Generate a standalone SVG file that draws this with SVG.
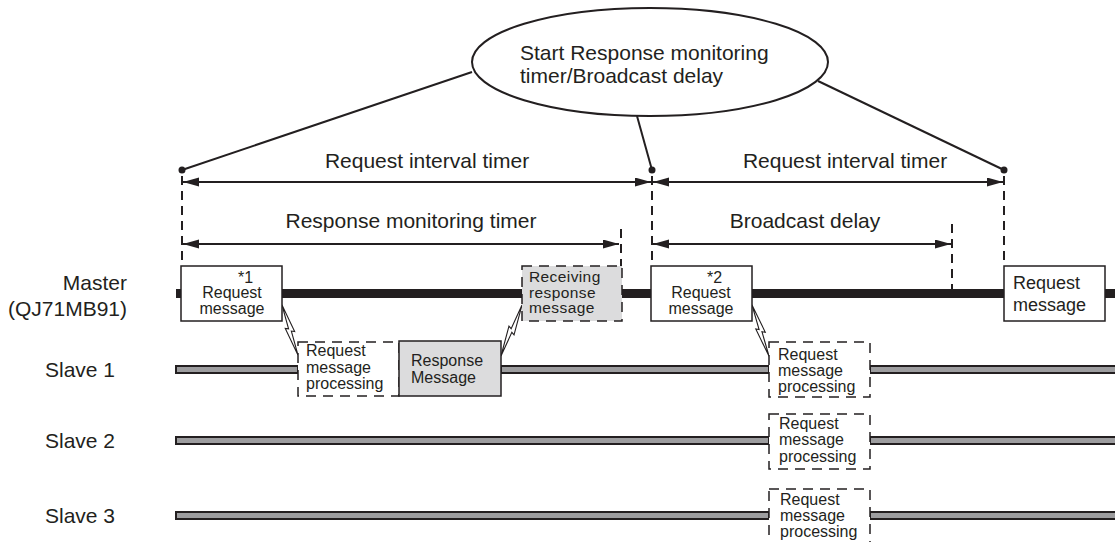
<svg xmlns="http://www.w3.org/2000/svg" xmlns:xlink="http://www.w3.org/1999/xlink" width="1115" height="542" viewBox="0 0 1115 542">
<defs>
<style>
text{font-family:"Liberation Sans",Arial,sans-serif;fill:#231f20}
.lbl{font-size:21px}
.s16{font-size:16px}
.s155{font-size:15.5px;letter-spacing:0.4px}
.s18{font-size:18px}
.mid{text-anchor:middle}
.end{text-anchor:end}
.ln{stroke:#231f20;stroke-width:2;fill:none}
.dash{stroke:#231f20;stroke-width:2;stroke-dasharray:9 6;fill:none}
.arr{stroke:#231f20;stroke-width:2;fill:none;marker-start:url(#ah);marker-end:url(#ah)}
.box{fill:#fff;stroke:#231f20;stroke-width:1.5}
.gbox{fill:#dcdcdd;stroke:#231f20;stroke-width:1.5}
.dbox{fill:#fff;stroke:#231f20;stroke-width:1.5;stroke-dasharray:10 7}
.dgbox{fill:#dcdcdd;stroke:#231f20;stroke-width:1.5;stroke-dasharray:10 7}
.master{fill:#231f20}
.slave{fill:#9d9d9f;stroke:#231f20;stroke-width:2}
.bolt{fill:#fff;stroke:#231f20;stroke-width:1.1}
.dot{fill:#231f20}
</style>
<marker id="ah" markerUnits="userSpaceOnUse" markerWidth="17" markerHeight="10" refX="16" refY="4.5" orient="auto-start-reverse">
<path d="M0,0 L16,4.5 L0,9 Z" fill="#231f20"/>
</marker>
<path id="bolt" d="M0,0 L4,30 L1,28.5 L0,54 L-4,24 L-1,25.5 Z"/>
</defs>
<rect width="1115" height="542" fill="#fff"/>

<g id="timelines">
<rect class="master" x="176" y="289" width="945" height="9"/>
<rect class="slave" x="176" y="366" width="122" height="7"/>
<rect class="slave" x="501" y="366" width="268" height="7"/>
<rect class="slave" x="870" y="366" width="250" height="7"/>
<rect class="slave" x="176" y="437" width="593" height="7"/>
<rect class="slave" x="870" y="437" width="250" height="7"/>
<rect class="slave" x="176" y="512" width="593" height="7"/>
<rect class="slave" x="870" y="512" width="250" height="7"/>
</g>

<g id="labels">
<text class="lbl end" x="127" y="290">Master</text>
<text class="lbl end" x="127" y="316">(QJ71MB91)</text>
<text class="lbl" x="45" y="377">Slave 1</text>
<text class="lbl" x="45" y="448">Slave 2</text>
<text class="lbl" x="45" y="523">Slave 3</text>
</g>

<g id="callout">
<ellipse class="ln" cx="650" cy="62" rx="178" ry="54"/>
<text class="lbl" x="520" y="60">Start Response monitoring</text>
<text class="lbl" x="520" y="83">timer/Broadcast delay</text>
</g>

<g id="connectors">
<line class="ln" x1="472" y1="72" x2="182" y2="170"/>
<line class="ln" x1="637" y1="116" x2="652" y2="170"/>
<line class="ln" x1="818" y1="81" x2="1004" y2="170"/>
<circle class="dot" cx="182" cy="170" r="3.5"/>
<circle class="dot" cx="652" cy="170" r="3.5"/>
<circle class="dot" cx="1004" cy="170" r="3.5"/>
<line class="dash" x1="182" y1="176" x2="182" y2="266"/>
<line class="dash" x1="652" y1="176" x2="652" y2="266"/>
<line class="dash" x1="1004" y1="176" x2="1004" y2="266"/>
<line class="dash" x1="621" y1="229" x2="621" y2="266"/>
<line class="dash" x1="952" y1="224" x2="952" y2="289"/>
<line class="arr" x1="183" y1="182" x2="651" y2="182"/>
<line class="arr" x1="653" y1="182" x2="1003" y2="182"/>
<line class="arr" x1="183" y1="244" x2="619" y2="244"/>
<line class="arr" x1="653" y1="244" x2="951" y2="244"/>
<use xlink:href="#bolt" href="#bolt" class="bolt" transform="translate(282,305) rotate(-17.7) scale(1,0.97)"/>
<use xlink:href="#bolt" href="#bolt" class="bolt" transform="translate(501,356) rotate(-157.6) scale(1,1.02)"/>
<use xlink:href="#bolt" href="#bolt" class="bolt" transform="translate(752,305) rotate(-18.4) scale(1,1.0)"/>
</g>

<g id="timer-labels">
<text class="lbl mid" x="427" y="168">Request interval timer</text>
<text class="lbl mid" x="845" y="168">Request interval timer</text>
<text class="lbl mid" x="411" y="228">Response monitoring timer</text>
<text class="lbl mid" x="805" y="228">Broadcast delay</text>
</g>

<g id="master-request-1">
<rect class="box" x="181" y="266" width="101" height="55"/>
<text class="s16" x="238" y="283">*1</text>
<text class="s16 mid" x="232" y="298">Request</text>
<text class="s16 mid" x="232" y="314">message</text>
</g>

<g id="master-receiving">
<rect class="dgbox" x="522" y="266" width="100" height="55"/>
<text class="s155" x="529" y="282">Receiving</text>
<text class="s155" x="529" y="297.5">response</text>
<text class="s155" x="529" y="313">message</text>
</g>

<g id="master-request-2">
<rect class="box" x="651" y="266" width="101" height="55"/>
<text class="s16" x="707" y="283">*2</text>
<text class="s16 mid" x="701" y="298">Request</text>
<text class="s16 mid" x="701" y="314">message</text>
</g>

<g id="master-request-3">
<rect class="box" x="1004" y="266" width="101" height="55"/>
<text class="s18" x="1013" y="289">Request</text>
<text class="s18" x="1013" y="311">message</text>
</g>

<g id="slave1-processing-1">
<rect class="dbox" x="298" y="342" width="101" height="54"/>
<text class="s16" x="306" y="356">Request</text>
<text class="s16" x="306" y="373">message</text>
<text class="s16" x="306" y="389">processing</text>
</g>

<g id="slave1-response">
<rect class="gbox" x="399" y="341" width="102" height="55"/>
<text class="s16" x="411" y="366">Response</text>
<text class="s16" x="411" y="383">Message</text>
</g>

<g id="slave1-processing-2">
<rect class="dbox" x="769" y="342" width="101" height="55"/>
<text class="s16" x="778" y="360">Request</text>
<text class="s16" x="778" y="376">message</text>
<text class="s16" x="778" y="392">processing</text>
</g>

<g id="slave2-processing">
<rect class="dbox" x="769" y="414" width="101" height="55"/>
<text class="s16" x="779" y="429">Request</text>
<text class="s16" x="779" y="445">message</text>
<text class="s16" x="779" y="462">processing</text>
</g>

<g id="slave3-processing">
<rect class="dbox" x="769" y="489" width="101" height="58"/>
<text class="s16" x="780" y="505">Request</text>
<text class="s16" x="780" y="521">message</text>
<text class="s16" x="780" y="537">processing</text>
</g>
</svg>
